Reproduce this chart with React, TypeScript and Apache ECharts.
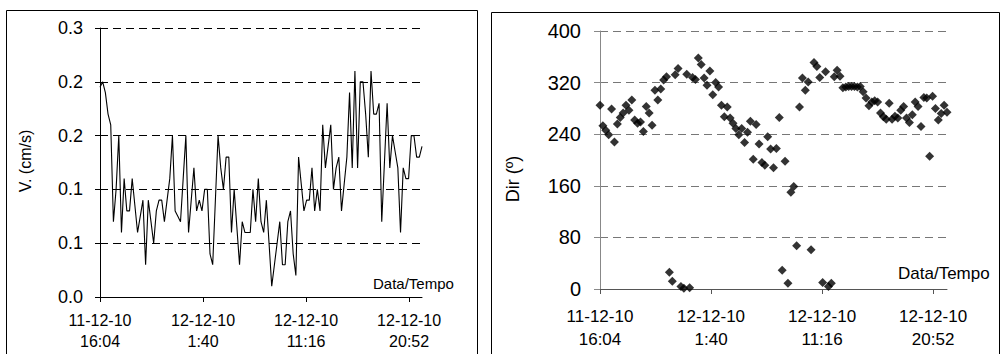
import React, { useEffect, useRef } from "react";
import * as echarts from "echarts";

// Current speed (cm/s), one reading every 15 minutes from 11-12-10 16:04
const speedValues = [
  0.195, 0.2, 0.19, 0.17, 0.16, 0.07, 0.1, 0.15, 0.06, 0.11,
  0.08, 0.08, 0.11, 0.085, 0.06, 0.075, 0.09, 0.03, 0.09, 0.07,
  0.05, 0.08, 0.09, 0.09, 0.07, 0.09, 0.11, 0.15, 0.08, 0.075,
  0.07, 0.11, 0.15, 0.06, 0.09, 0.12, 0.08, 0.09, 0.08, 0.1,
  0.1, 0.04, 0.03, 0.09, 0.15, 0.12, 0.1, 0.13, 0.13, 0.06,
  0.1, 0.065, 0.03, 0.07, 0.06, 0.06, 0.06, 0.1, 0.07, 0.11,
  0.07, 0.06, 0.09, 0.05, 0.01, 0.03, 0.05, 0.07, 0.03, 0.03,
  0.07, 0.08, 0.04, 0.02, 0.13, 0.105, 0.08, 0.09, 0.09, 0.12,
  0.08, 0.1, 0.08, 0.16, 0.12, 0.14, 0.16, 0.1, 0.12, 0.13,
  0.08, 0.105, 0.13, 0.19, 0.12, 0.21, 0.12, 0.2, 0.2, 0.17,
  0.13, 0.21, 0.17, 0.17, 0.18, 0.07, 0.125, 0.18, 0.12, 0.15,
  0.135, 0.12, 0.06, 0.12, 0.11, 0.11, 0.15, 0.15, 0.13, 0.13,
  0.14,
];

// Current direction (degrees), same sampling
const directionValues = [
  285, 253, 246, 239, 279, 228, 256, 266, 273, 285,
  277, 293, 262, 257, 259, 244, 283, 273, 254, 308,
  293, 310, 324, 329, 26, 12, 332, 342, 4, 1,
  333, 2, 328, 325, 358, 348, 327, 316, 338, 301,
  320, 313, 285, 267, 282, 265, 257, 249, 239, 249,
  227, 243, 260, 201, 255, 225, 196, 192, 236, 217,
  188, 218, 266, 29, 198, 9, 150, 159, 67, 282,
  327, 308, 321, 61, 351, 345, 328, 10, 337, 4,
  9, 329, 339, 330, 312, 313, 314, 314, 314, 313,
  314, 306, 296, 284, 290, 292, 290, 273, 267, 263,
  288, 263, 268, 265, 277, 283, 265, 258, 270, 290,
  283, 252, 297, 296, 206, 299, 280, 262, 272, 285,
  274,
];

const SAMPLE_STEP_MIN = 15;
const X_MAX_MIN = 1800;

const xTickMinutes = [0, 576, 1152, 1728];
const xTickDates = ["11-12-10", "12-12-10", "12-12-10", "12-12-10"];
const xTickTimes = ["16:04", "1:40", "11:16", "20:52"];

const speedTickLabels = ["0.0", "0.1", "0.1", "0.2", "0.2", "0.3"];
const dirTickLabels = ["0", "80", "160", "240", "320", "400"];

const FONT = "'Liberation Sans', Arial, Helvetica, sans-serif";

function xLabel(v: number) {
  const k = xTickMinutes.indexOf(v);
  return k >= 0 ? `${xTickDates[k]}\n${xTickTimes[k]}` : "";
}

export default function App() {
  const ref = useRef<HTMLDivElement>(null);

  useEffect(() => {
    if (!ref.current) return;
    const chart = echarts.init(ref.current, null, {
      renderer: "svg",
      width: 1000,
      height: 354,
    });

    const speedData = speedValues.map((v, i) => [i * SAMPLE_STEP_MIN, v]);
    const dirData = directionValues.map((v, i) => [i * SAMPLE_STEP_MIN, v]);

    chart.setOption({
      animation: false,
      backgroundColor: "#fff",
      textStyle: { fontFamily: FONT },
      grid: [
        { left: 100, top: 28, width: 322, height: 269, containLabel: false },
        { left: 600, top: 31, width: 347, height: 258, containLabel: false },
      ],
      xAxis: [
        {
          gridIndex: 0,
          type: "value",
          min: 0,
          max: X_MAX_MIN,
          axisLine: { lineStyle: { color: "#000", width: 1 } },
          axisTick: {
            customValues: xTickMinutes,
            length: 5,
            inside: false,
            lineStyle: { color: "#000" },
          },
          axisLabel: {
            customValues: xTickMinutes,
            formatter: xLabel,
            fontSize: 16,
            lineHeight: 21,
            margin: 13,
            color: "#000",
            fontFamily: FONT,
          },
          splitLine: { show: false },
        },
        {
          gridIndex: 1,
          type: "value",
          min: 0,
          max: X_MAX_MIN,
          axisLine: { lineStyle: { color: "#555", width: 1 } },
          axisTick: {
            customValues: xTickMinutes,
            length: 5,
            lineStyle: { color: "#555" },
          },
          axisLabel: {
            customValues: xTickMinutes,
            formatter: xLabel,
            fontSize: 17,
            lineHeight: 23,
            margin: 16,
            color: "#000",
            fontFamily: FONT,
          },
          splitLine: { show: false },
        },
      ],
      yAxis: [
        {
          gridIndex: 0,
          type: "value",
          min: 0,
          max: 0.25,
          interval: 0.05,
          axisLine: { show: true, lineStyle: { color: "#000", width: 1 } },
          axisTick: { show: true, length: 5, lineStyle: { color: "#000" } },
          axisLabel: {
            formatter: (_v: number, idx: number) => speedTickLabels[idx] ?? "",
            fontSize: 18,
            margin: 17,
            color: "#000",
            fontFamily: FONT,
          },
          splitLine: {
            show: true,
            showMinLine: false,
            lineStyle: { color: "#000", width: 1, type: [8, 5] },
          },
        },
        {
          gridIndex: 1,
          type: "value",
          min: 0,
          max: 400,
          interval: 80,
          axisLine: { show: true, lineStyle: { color: "#888", width: 1 } },
          axisTick: { show: true, length: 6, lineStyle: { color: "#888" } },
          axisLabel: {
            formatter: (_v: number, idx: number) => dirTickLabels[idx] ?? "",
            fontSize: 20,
            margin: 19,
            color: "#000",
            fontFamily: FONT,
          },
          splitLine: {
            show: true,
            showMinLine: false,
            lineStyle: { color: "#777", width: 1, type: [8, 5] },
          },
        },
      ],
      series: [
        {
          type: "line",
          xAxisIndex: 0,
          yAxisIndex: 0,
          data: speedData,
          showSymbol: false,
          symbol: "none",
          lineStyle: { color: "#000", width: 1.1 },
        },
        {
          type: "scatter",
          xAxisIndex: 1,
          yAxisIndex: 1,
          data: dirData,
          symbol: "diamond",
          symbolSize: 9,
          itemStyle: { color: "#000" },
        },
      ],
      graphic: [
        {
          type: "rect",
          shape: { x: 6.5, y: 10.5, width: 471, height: 400 },
          style: { fill: "none", stroke: "#000", lineWidth: 1 },
          silent: true,
        },
        {
          type: "rect",
          shape: { x: 491.5, y: 12.5, width: 508, height: 400 },
          style: { fill: "none", stroke: "#000", lineWidth: 1 },
          silent: true,
        },
        {
          type: "text",
          x: 25,
          y: 161,
          rotation: Math.PI / 2,
          style: {
            text: "V. (cm/s)",
            fontSize: 16,
            fontFamily: FONT,
            fill: "#000",
            textAlign: "center",
            textVerticalAlign: "middle",
          },
        },
        {
          type: "text",
          x: 513,
          y: 179,
          rotation: Math.PI / 2,
          style: {
            text: "Dir (º)",
            fontSize: 18,
            fontFamily: FONT,
            fill: "#000",
            textAlign: "center",
            textVerticalAlign: "middle",
          },
        },
        {
          type: "text",
          x: 373,
          y: 283,
          style: {
            text: "Data/Tempo",
            fontSize: 15,
            fontFamily: FONT,
            fill: "#000",
            textAlign: "left",
            textVerticalAlign: "middle",
          },
        },
        {
          type: "text",
          x: 898,
          y: 273,
          style: {
            text: "Data/Tempo",
            fontSize: 17,
            fontFamily: FONT,
            fill: "#000",
            textAlign: "left",
            textVerticalAlign: "middle",
          },
        },
      ],
    });

    return () => chart.dispose();
  }, []);

  return (
    <div
      ref={ref}
      style={{
        position: "absolute",
        left: 0,
        top: 0,
        width: 1000,
        height: 354,
        background: "#fff",
      }}
    />
  );
}
